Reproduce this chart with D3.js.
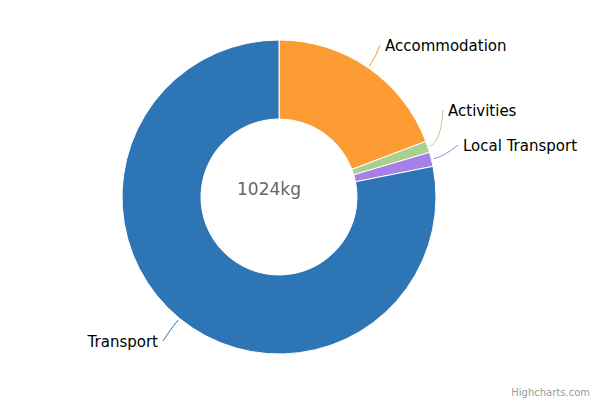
<!DOCTYPE html><html><head><script src="https://cdn.jsdelivr.net/npm/d3@7"></script>
<style>body{margin:0;background:#fff}text{font-family:"Lucida Grande","DejaVu Sans",sans-serif}</style></head><body>
<svg id="c" width="600" height="400"></svg>
<script>
const categories=["Accommodation","Activities","Local Transport","Transport"];
const values=[197,12,15,800];
const colors=["#fd9b35","#a9d18e","#a680e6","#2e75b6"];
const labelPos=[[385,50,"start"],[448,115,"start"],[463,150,"start"],[158,346,"end"]];
const svg=d3.select("#c"),cx=279,cy=197,R=157,r=78;
const g=svg.append("g").attr("transform",`translate(${cx},${cy})`);
const arcs=d3.pie().sort(null)(values);
const arc=d3.arc().innerRadius(r).outerRadius(R);
g.selectAll("path.s").data(arcs).join("path").attr("class","s").attr("d",arc)
 .attr("fill",(d,i)=>colors[i]).attr("stroke","#fff").attr("stroke-width",1);
arcs.forEach((d,i)=>{
  const a=(d.startAngle+d.endAngle)/2;
  const sx=Math.sin(a)*(R+2),sy=-Math.cos(a)*(R+2);
  const [lx,ly,anc]=labelPos[i];
  const ex=lx-cx+(anc==="start"?-5:5),ey=ly-cy-5;
  const mx=Math.sin(a)*(R+14),my=-Math.cos(a)*(R+14);
  g.append("path").attr("d",`M${sx},${sy}Q${mx},${my} ${ex},${ey}`).attr("fill","none").attr("stroke",colors[i]).attr("stroke-width",1);
  svg.append("text").attr("x",lx).attr("y",ly+1).attr("text-anchor",anc).attr("font-size",15).attr("fill","#000").text(categories[i]);
});
svg.append("text").attr("x",cx-10).attr("y",cy-2).attr("text-anchor","middle").attr("font-size",17).attr("fill","#666").text(d3.sum(values)+"kg");
svg.append("text").attr("x",590).attr("y",396).attr("text-anchor","end").attr("font-size",10).attr("fill","#999").text("Highcharts.com");
</script></body></html>
